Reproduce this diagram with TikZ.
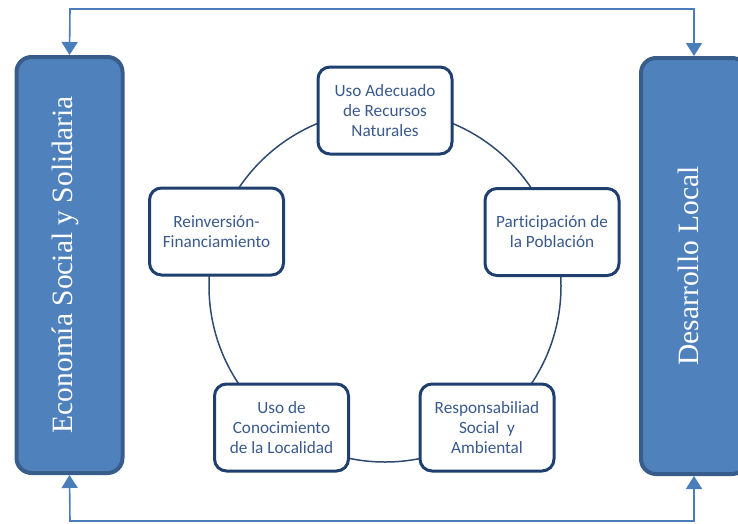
\documentclass[tikz,border=0pt]{standalone}
\usepackage{fontspec}
\setmainfont{Liberation Serif}
\newfontfamily\calfont[Ligatures={NoCommon}]{Carlito}
\usetikzlibrary{arrows.meta}
\definecolor{bigfill}{HTML}{4F81BD}
\definecolor{bigedge}{HTML}{385D8A}
\definecolor{smalledge}{HTML}{1F3F6E}
\definecolor{smalltext}{HTML}{3A5A8C}
\definecolor{ringcol}{HTML}{2E4A70}
\definecolor{arrowcol}{HTML}{4A7EBB}
\tikzset{
  bigbox/.style={draw=bigedge, fill=bigfill, line width=4pt, rounded corners=15pt,
    minimum width=106pt, minimum height=416pt, inner sep=0pt},
  bigtext/.style={text=white, rotate=90, font=\fontsize{29.5}{33}\selectfont},
  smallbox/.style={draw=smalledge, fill=white, line width=3pt, rounded corners=12pt,
    minimum width=134pt, minimum height=87pt, align=center, text=smalltext,
    font=\calfont\fontsize{17.2}{20}\selectfont, inner sep=0pt},
  ring/.style={draw=ringcol, line width=1.5pt},
  flow/.style={draw=arrowcol, line width=1.6pt, -{Triangle[length=13pt,width=16pt]}}
}
\begin{document}
\begin{tikzpicture}[x=1pt,y=-1pt]
\useasboundingbox (0,0) rectangle (738,523);
\clip (0,0) rectangle (738,523);
\node[bigbox] (esy) at (69.5,265) {};
\node[bigtext] (esyt) at (65,265) {Economía Social y Solidaria};
\node[bigbox] (dl) at (694,266) {};
\node[bigtext] (dlt) at (688,266) {Desarrollo Local};
\draw[ring] (385,286) circle (176);
\node[smallbox] (uso) at (385,110.5) {Uso Adecuado\\de Recursos\\Naturales};
\node[smallbox] (par) at (552,232) {Participación de\\la Población};
\node[smallbox] (res) at (487,427.5) {Responsabiliad\\Social\ \ y\\Ambiental};
\node[smallbox] (con) at (281.5,427.5) {Uso de\\Conocimiento\\de la Localidad};
\node[smallbox] (rei) at (216.5,231.5) {Reinversión-\\Financiamiento};
\coordinate (tl) at (70,9);
\coordinate (tr) at (694,9);
\coordinate (bl) at (70,521);
\coordinate (br) at (694,521);
\draw[flow] (tr) -- (tl) -- (esy.north);
\draw[flow] (tl) -- (tr) -- (dl.north);
\draw[flow] (br) -- (bl) -- (esy.south);
\draw[flow] (bl) -- (br) -- (dl.south);
\end{tikzpicture}
\end{document}
